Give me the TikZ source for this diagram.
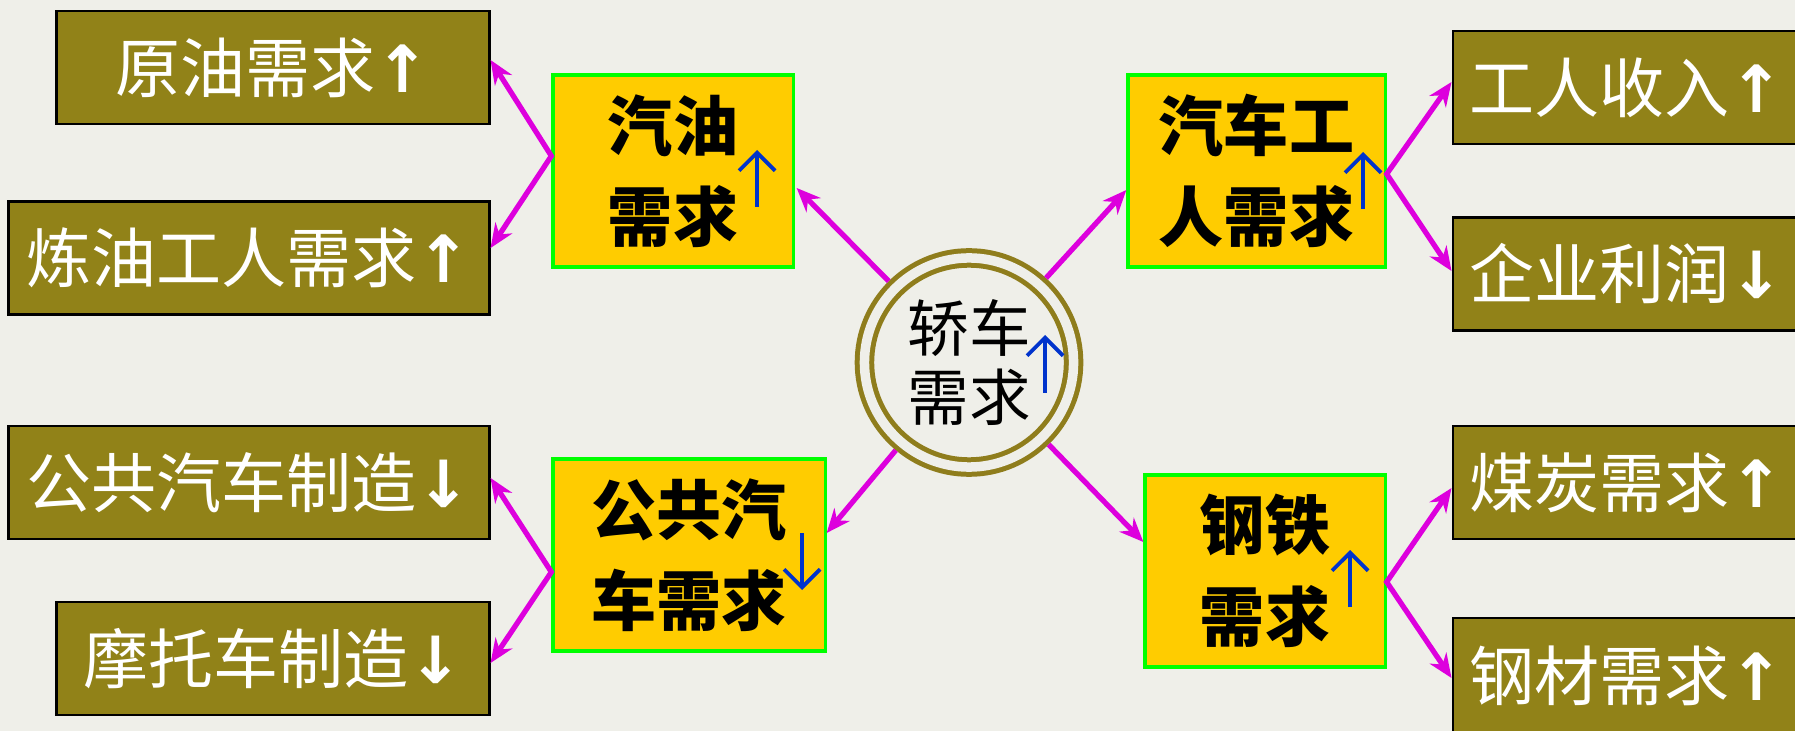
\documentclass[tikz,border=0pt]{standalone}
\usepackage{fontspec}
\newfontfamily\cjk{Noto Sans CJK SC}
\newfontfamily\arrfont{DejaVu Sans}
\usetikzlibrary{arrows.meta,calc}
\definecolor{bgc}{RGB}{239,239,233}
\definecolor{olivebox}{RGB}{145,130,24}
\definecolor{ringc}{RGB}{143,125,28}
\definecolor{goldc}{RGB}{255,204,0}
\definecolor{lgreen}{RGB}{0,255,0}
\definecolor{magc}{RGB}{221,0,221}
\definecolor{arrblue}{RGB}{0,51,204}
\newcommand{\uparr}{{\arrfont\bfseries ↑}}
\newcommand{\dnarr}{{\arrfont\bfseries ↓}}
\tikzset{
  outbox/.style={draw=black, line width=0.8pt, fill=olivebox, text=white,
    font=\cjk\fontsize{18.5}{20}\selectfont, inner sep=0pt, minimum height=1.13cm},
  ybox/.style={draw=lgreen, line width=0.9pt, fill=goldc, text=black, align=center,
    font=\cjk\bfseries\fontsize{18.5}{26}\selectfont, inner sep=0pt, minimum height=1.92cm},
  magline/.style={draw=magc, line width=1.5pt, -{Stealth[length=0.24cm, width=0.2cm]}},
  magfork/.style={draw=magc, line width=1.5pt, {Stealth[length=0.24cm, width=0.2cm]}-{Stealth[length=0.24cm, width=0.2cm]}},
  bluearr/.style={draw=arrblue, line width=1.1pt, -{Straight Barb[length=0.18cm, width=0.36cm, line width=1.1pt]}},
}
\begin{document}
\begin{tikzpicture}[x=0.01cm, y=-0.01cm]
\clip (0,0) rectangle (1795,731);
\fill[bgc] (0,0) rectangle (1795,731);

% left outer boxes
\node[outbox, minimum width=4.32cm] (crude) at (273,67.5) {原油需求\uparr};
\node[outbox, minimum width=4.80cm] (refine) at (249,258) {炼油工人需求\uparr};
\node[outbox, minimum width=4.80cm] (busmake) at (249,482.5) {公共汽车制造\dnarr};
\node[outbox, minimum width=4.32cm] (motor) at (273,658.5) {摩托车制造\dnarr};

% right outer boxes
\node[outbox, minimum width=3.47cm] (income) at (1626.5,87.5) {工人收入\uparr};
\node[outbox, minimum width=3.47cm] (profit) at (1626.5,274) {企业利润\dnarr};
\node[outbox, minimum width=3.47cm] (coal) at (1626.5,482.5) {煤炭需求\uparr};
\node[outbox, minimum width=3.47cm, minimum height=1.15cm] (steelmat) at (1626.5,675.5) {钢材需求\uparr};

% yellow boxes
\node[ybox, minimum width=2.40cm] (gasoline) at (673,171) {汽油\\需求};
\node[ybox, minimum width=2.72cm] (busdem) at (689,555) {公共汽\\车需求};
\node[ybox, minimum width=2.57cm] (worker) at (1256.5,171) {汽车工\\人需求};
\node[ybox, minimum width=2.40cm] (steel) at (1265,571) {钢铁\\需求};

% centre circle
\node[circle, draw=ringc, line width=0.05cm, double=bgc, double distance=0.095cm,
      minimum size=2.09cm, outer sep=0.0975cm, inner sep=0pt, align=center,
      font=\cjk\fontsize{17.5}{19.7}\selectfont] (car) at (969,362.5) {轿车\\需求};

% blue arrows
\draw[bluearr] (757,207) -- (757,150);
\draw[bluearr] (1363,209) -- (1363,152);
\draw[bluearr] (802,533) -- (802,590);
\draw[bluearr] (1350,607) -- (1350,550);
\draw[bluearr] (1045,393) -- (1045,335);

% connectors from the circle
\draw[magline] (car) -- ($(gasoline.east)+(2,17)$);
\draw[magline] (car) -- ($(worker.west)+(0,19)$);
\draw[magline] (car) -- ($(busdem.east)+(0,-22)$);
\draw[magline] (car) -- ($(steel.west)+(0,-29)$);

% forks
\draw[magfork] ($(crude.east)+(0,-7.5)$) -- ($(gasoline.west)+(0,-15)$) -- ($(refine.east)+(0,-10)$);
\draw[magfork] ($(income.west)+(0,-5.5)$) -- ($(worker.east)+(0,3)$) -- ($(profit.west)+(0,-3)$);
\draw[magfork] ($(busmake.east)+(0,-4.5)$) -- ($(busdem.west)+(0,17)$) -- ($(motor.east)+(0,4.5)$);
\draw[magfork] ($(coal.west)+(0,5.5)$) -- ($(steel.east)+(0,11)$) -- ($(steelmat.west)+(0,2.5)$);
\end{tikzpicture}
\end{document}
